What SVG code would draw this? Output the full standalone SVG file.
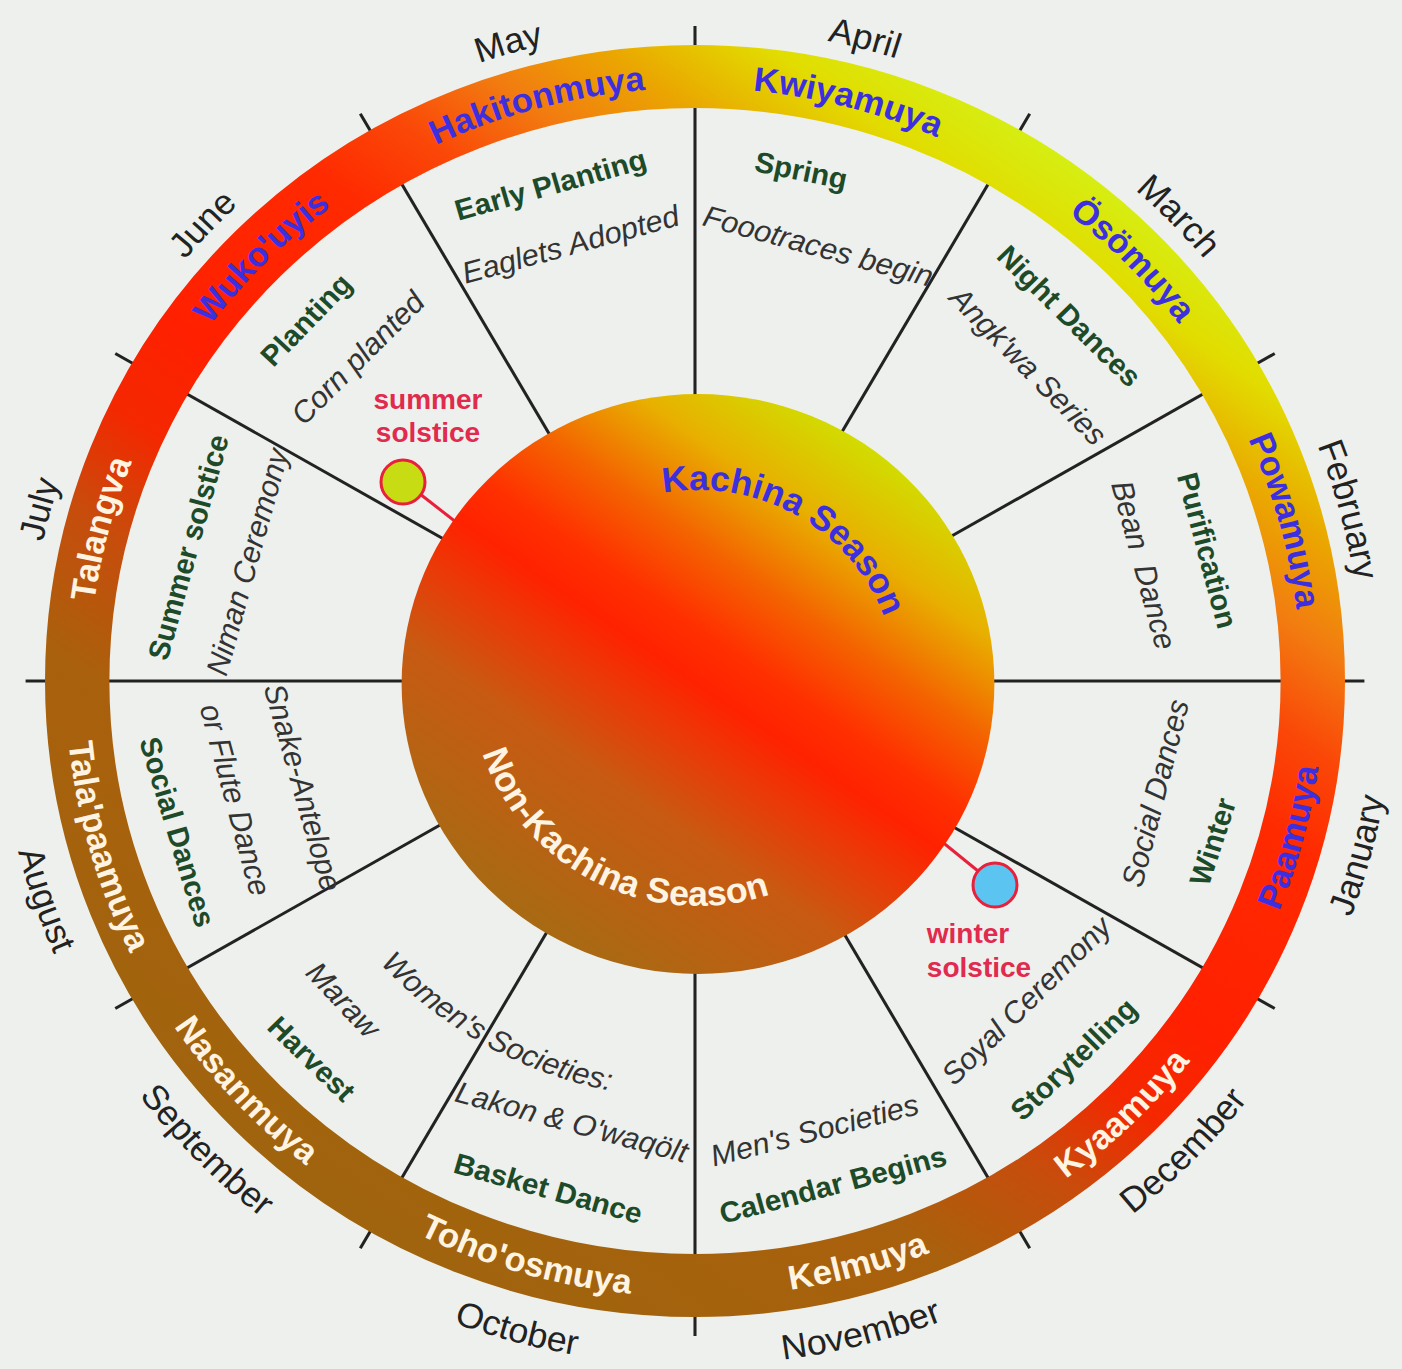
<svg xmlns="http://www.w3.org/2000/svg" width="1402" height="1369" viewBox="0 0 1402 1369">
<style>
text{font-family:"Liberation Sans",Arial,sans-serif}
.mon{font-size:35px;fill:#222}
.rp{font-size:34px;font-weight:bold;fill:#3b2fe0}
.rw{font-size:34px;font-weight:bold;fill:#fff4e2}
.g{font-size:29px;font-weight:bold;fill:#1d4a28}
.k{font-size:30px;font-style:italic;fill:#333}
.s{font-size:28px;font-weight:bold;fill:#e02a4e}
.spk line{stroke:#222;stroke-width:3}
.con line{stroke:#e8203c;stroke-width:3}
.mk{stroke:#e8203c;stroke-width:3}
</style>
<defs>
<linearGradient id="gr" gradientUnits="userSpaceOnUse" x1="364.8" y1="-521" x2="-364.8" y2="521">
<stop offset="0" stop-color="#d6ee12"/>
<stop offset="0.06" stop-color="#e2dc00"/>
<stop offset="0.13" stop-color="#eaa800"/>
<stop offset="0.2" stop-color="#f27c10"/>
<stop offset="0.27" stop-color="#fa4808"/>
<stop offset="0.34" stop-color="#ff2a00"/>
<stop offset="0.5" stop-color="#ff2000"/>
<stop offset="0.58" stop-color="#f42800"/>
<stop offset="0.66" stop-color="#c84c0c"/>
<stop offset="0.76" stop-color="#aa600c"/>
<stop offset="1" stop-color="#a0640e"/>
</linearGradient>
<linearGradient id="gd" gradientUnits="userSpaceOnUse" x1="166.3" y1="-237.6" x2="-166.3" y2="237.6">
<stop offset="0" stop-color="#d2dc00"/>
<stop offset="0.15" stop-color="#e8b000"/>
<stop offset="0.3" stop-color="#f46200"/>
<stop offset="0.42" stop-color="#ff3000"/>
<stop offset="0.5" stop-color="#ff2200"/>
<stop offset="0.6" stop-color="#e83c08"/>
<stop offset="0.72" stop-color="#c85a12"/>
<stop offset="1" stop-color="#a86a12"/>
</linearGradient>
<path id="cm" d="M-653 0A653 653 0 1 1 653 0A653 653 0 1 1-653 0"/>
<path id="am" d="M-684 0A684 684 0 1 0 684 0A684 684 0 1 0-684 0"/>
<path id="cr" d="M-593 0A593 593 0 1 1 593 0A593 593 0 1 1-593 0"/>
<path id="ar" d="M-616 0A616 616 0 1 0 616 0A616 616 0 1 0-616 0"/>
<path id="cd" d="M-194 0A194 194 0 1 1 194 0A194 194 0 1 1-194 0"/>
<path id="ad" d="M-222 0A222 222 0 1 0 222 0A222 222 0 1 0-222 0"/>
<path id="aw" d="M-418 0A418 418 0 1 0 418 0A418 418 0 1 0-418 0"/>
</defs>
<rect width="1402" height="1369" fill="#edf0ec"/>

<g id="connectors">
<g class="spk" transform="translate(695,681) scale(1.022,1)">
<line x1="0" y1="-280" x2="0" y2="-655"/>
<line x1="0" y1="-280" x2="0" y2="-655" transform="rotate(30)"/>
<line x1="0" y1="-280" x2="0" y2="-655" transform="rotate(60)"/>
<line x1="0" y1="-280" x2="0" y2="-655" transform="rotate(90)"/>
<line x1="0" y1="-280" x2="0" y2="-655" transform="rotate(120)"/>
<line x1="0" y1="-280" x2="0" y2="-655" transform="rotate(150)"/>
<line x1="0" y1="-280" x2="0" y2="-655" transform="rotate(180)"/>
<line x1="0" y1="-280" x2="0" y2="-655" transform="rotate(210)"/>
<line x1="0" y1="-280" x2="0" y2="-655" transform="rotate(240)"/>
<line x1="0" y1="-280" x2="0" y2="-655" transform="rotate(270)"/>
<line x1="0" y1="-280" x2="0" y2="-655" transform="rotate(300)"/>
<line x1="0" y1="-280" x2="0" y2="-655" transform="rotate(330)"/>
</g>
<g class="con">
<line x1="420" y1="494" x2="470" y2="533"/>
<line x1="978" y1="871" x2="930" y2="832"/>
</g>
</g>

<g id="season-disc" transform="translate(698,684) scale(1.022,1)">
<circle cx="0" cy="0" r="290" fill="url(#gd)"/>
<text class="rp" style="font-size:35px"><textPath href="#cd" startOffset="33.3%" text-anchor="middle">Kachina Season</textPath></text>
<text class="rw" style="font-size:35px"><textPath href="#ad" startOffset="17.6%" text-anchor="middle">Non-Kachina Season</textPath></text>
</g>

<g transform="translate(695,681) scale(1.022,1)">
<g id="ring">
<circle cx="0" cy="0" r="604.5" fill="none" stroke="url(#gr)" stroke-width="63"/>
<text class="rp"><textPath href="#cr" startOffset="20.83%" text-anchor="middle">Hakitonmuya</textPath></text>
<text class="rp"><textPath href="#cr" startOffset="29.03%" text-anchor="middle">Kwiyamuya</textPath></text>
<text class="rp"><textPath href="#cr" startOffset="37.64%" text-anchor="middle">Ösömuya</textPath></text>
<text class="rp"><textPath href="#cr" startOffset="45.69%" text-anchor="middle">Powamuya</textPath></text>
<text class="rp"><textPath href="#ar" startOffset="45.83%" text-anchor="middle">Paamuya</textPath></text>
<text class="rw"><textPath href="#ar" startOffset="37.22%" text-anchor="middle">Kyaamuya</textPath></text>
<text class="rw"><textPath href="#ar" startOffset="29.25%" text-anchor="middle">Kelmuya</textPath></text>
<text class="rw"><textPath href="#ar" startOffset="20.56%" text-anchor="middle">Toho'osmuya</textPath></text>
<text class="rw"><textPath href="#ar" startOffset="11.94%" text-anchor="middle">Nasanmuya</textPath></text>
<text class="rw"><textPath href="#ar" startOffset="4.44%" text-anchor="middle">Tala'paamuya</textPath></text>
<text class="rw"><textPath href="#cr" startOffset="4.08%" text-anchor="middle">Talangva</textPath></text>
<text class="rp"><textPath href="#cr" startOffset="12.5%" text-anchor="middle">Wuko'uyis</textPath></text>
</g>
<g id="months">
<text class="mon"><textPath href="#cm" startOffset="20.56%" text-anchor="middle">May</textPath></text>
<text class="mon"><textPath href="#cm" startOffset="29.03%" text-anchor="middle">April</textPath></text>
<text class="mon"><textPath href="#cm" startOffset="37.64%" text-anchor="middle">March</textPath></text>
<text class="mon"><textPath href="#cm" startOffset="45.83%" text-anchor="middle">February</textPath></text>
<text class="mon"><textPath href="#am" startOffset="45.83%" text-anchor="middle">January</textPath></text>
<text class="mon"><textPath href="#am" startOffset="37.64%" text-anchor="middle">December</textPath></text>
<text class="mon"><textPath href="#am" startOffset="28.89%" text-anchor="middle">November</textPath></text>
<text class="mon"><textPath href="#am" startOffset="20.83%" text-anchor="middle">October</textPath></text>
<text class="mon"><textPath href="#am" startOffset="12.36%" text-anchor="middle">September</textPath></text>
<text class="mon"><textPath href="#am" startOffset="5.28%" text-anchor="middle">August</textPath></text>
<text class="mon"><textPath href="#cm" startOffset="4.17%" text-anchor="middle">July</textPath></text>
<text class="mon"><textPath href="#cm" startOffset="12.08%" text-anchor="middle">June</textPath></text>
</g>
<g id="sector-hakitonmuya" text-anchor="middle">
<text class="g" transform="rotate(-15.9) translate(0,-506)">Early Planting</text>
<text class="k" transform="rotate(-15.6) translate(0,-443)">Eaglets Adopted</text>
</g>
<g id="sector-kwiyamuya" text-anchor="middle">
<text class="g" transform="rotate(11.5) translate(0,-511)">Spring</text>
<text class="k" transform="rotate(15.5) translate(0,-441)">Foootraces begin</text>
</g>
<g id="sector-osomuya" text-anchor="middle">
<text class="g" transform="rotate(45.1) translate(0,-507)">Night Dances</text>
<text class="k" transform="rotate(46) translate(0,-443)">Angk'wa Series</text>
</g>
<g id="sector-powamuya" text-anchor="middle">
<text class="g" transform="rotate(75.4) translate(0,-508)">Purification</text>
<text class="k" transform="rotate(75.2) translate(0,-444)" word-spacing="8">Bean Dance</text>
</g>
<g id="sector-paamuya" text-anchor="middle">
<text class="k" transform="rotate(-76) translate(0,474.5)">Social Dances</text>
<text class="g" transform="rotate(-72.4) translate(0,541.5)">Winter</text>
</g>
<g id="sector-kyaamuya" text-anchor="middle">
<text class="k" transform="rotate(-45.4) translate(0,465.5)">Soyal Ceremony</text>
<text class="g" transform="rotate(-44.4) translate(0,539.5)">Storytelling</text>
</g>
<g id="sector-kelmuya" text-anchor="middle">
<text class="k" transform="rotate(-14.6) translate(0,474.5)">Men's Societies</text>
<text class="g" transform="rotate(-15) translate(0,531.5)">Calendar Begins</text>
</g>
<g id="sector-tohoosmuya" text-anchor="middle">
<text class="k"><textPath href="#aw" startOffset="16.81%" text-anchor="middle">Women's Societies:</textPath></text>
<text class="k" transform="rotate(15.3) translate(0,467.5)">Lakon &amp; O'waqölt</text>
<text class="g" transform="rotate(15.8) translate(0,537.5)">Basket Dance</text>
</g>
<g id="sector-nasanmuya" text-anchor="middle">
<text class="k" transform="rotate(47.2) translate(0,479.5)">Maraw</text>
<text class="g" transform="rotate(44.8) translate(0,542.5)">Harvest</text>
</g>
<g id="sector-talapaamuya" text-anchor="middle">
<text class="k" transform="rotate(74.5) translate(0,408.5)">Snake-Antelope</text>
<text class="k" transform="rotate(75.2) translate(0,475.5)">or Flute Dance</text>
<text class="g" transform="rotate(73.4) translate(0,538.5)">Social Dances</text>
</g>
<g id="sector-talangva" text-anchor="middle">
<text class="g" transform="rotate(-74.9) translate(0,-503.5)">Summer solstice</text>
<text class="k" transform="rotate(-74.8) translate(0,-443.5)">Niman Ceremony</text>
</g>
<g id="sector-wukouyis" text-anchor="middle">
<text class="g" transform="rotate(-46.5) translate(0,-514.5)">Planting</text>
<text class="k" transform="rotate(-45.6) translate(0,-451.5)">Corn planted</text>
</g>
</g>

<g id="summer-solstice">
<circle class="mk" cx="403" cy="482" r="22" fill="#c8dc14"/>
<text class="s" x="428" y="409" text-anchor="middle">summer</text>
<text class="s" x="428" y="442" text-anchor="middle">solstice</text>
</g>
<g id="winter-solstice">
<circle class="mk" cx="995" cy="885" r="22" fill="#5cc4f0"/>
<text class="s" x="968" y="943" text-anchor="middle">winter</text>
<text class="s" x="979" y="977" text-anchor="middle">solstice</text>
</g>
</svg>
